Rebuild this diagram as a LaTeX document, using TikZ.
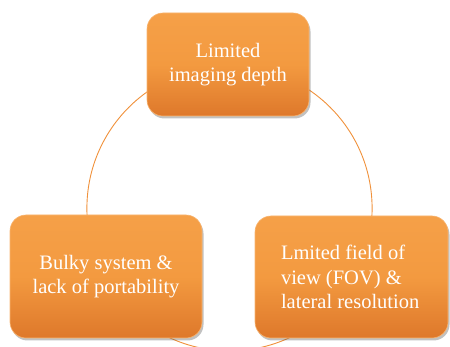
\documentclass[tikz,border=0pt]{standalone}
\usepackage{fontspec}
\setmainfont{Liberation Serif}
\usetikzlibrary{shadows}
\definecolor{orLight}{HTML}{F5A048}
\definecolor{orMid}{HTML}{F39A40}
\definecolor{orDark}{HTML}{DE782B}
\definecolor{orLine}{HTML}{F0913A}
\definecolor{orEdge}{HTML}{F8B470}
\tikzset{
  issue/.style={rounded corners=16pt, top color=orLight, bottom color=orDark,
    middle color=orMid, draw=orEdge, line width=0.6pt,
    drop shadow={shadow xshift=1.5pt, shadow yshift=-2.5pt, opacity=0.35, fill=black!70},
    text=white, font=\fontsize{20.5}{24.5}\selectfont, inner sep=0pt},
  ring/.style={draw=orLine, line width=0.9pt}
}
\begin{document}
\begin{tikzpicture}[x=1pt,y=-1pt]
\useasboundingbox (0,0) rectangle (450,347);
\clip (0,0) rectangle (450,347);
\coordinate (c) at (229.5,208.3);
\draw[ring] (c) circle[radius=142.6pt];
\node[issue, minimum width=162pt, minimum height=103pt, align=center] (top) at (228,64.5) {Limited\\imaging depth};
\node[issue, minimum width=192pt, minimum height=123pt, align=center] (bl) at (106,276.5) {Bulky system \&\\lack of portability};
\node[issue, minimum width=193pt, minimum height=122pt] (br) at (351.5,277)
  {\parbox{141pt}{\raggedright Lmited field of\\view (FOV) \&\\lateral resolution}};
\end{tikzpicture}
\end{document}
